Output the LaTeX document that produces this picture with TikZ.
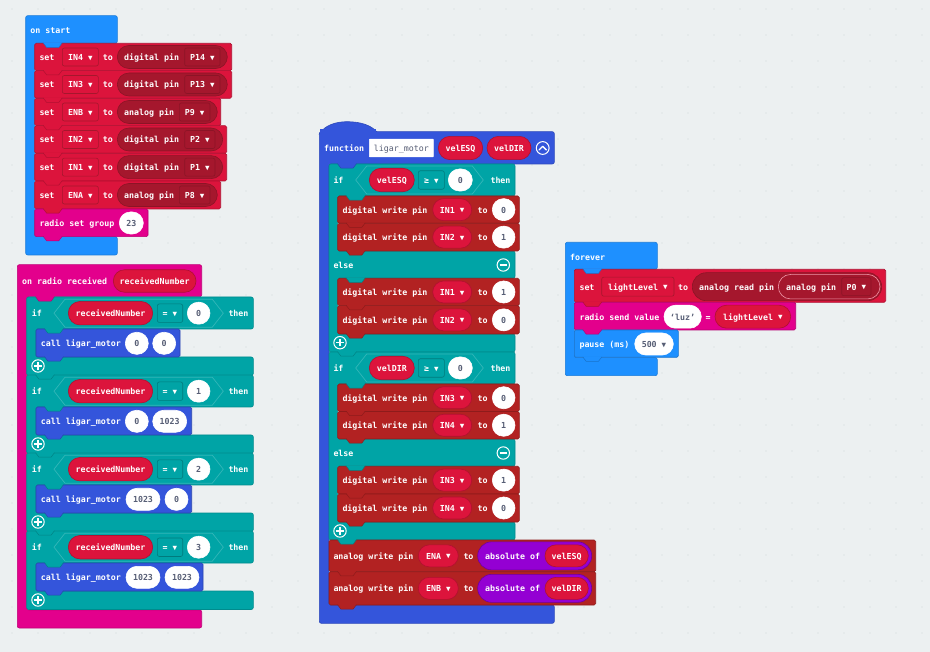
\documentclass[tikz,border=0pt]{standalone}
\usepackage{fontspec}
\setmainfont{DejaVu Sans Mono}
\usetikzlibrary{shapes.misc}
\definecolor{bgc}{HTML}{ECF0F1}
\definecolor{dotc}{HTML}{DFE4E6}
\definecolor{hatb}{HTML}{1E90FF}
\definecolor{crim}{HTML}{DC143C}
\definecolor{crimd}{HTML}{A5172D}
\definecolor{mag}{HTML}{E3008C}
\definecolor{teal}{HTML}{00A4A6}
\definecolor{tealL}{HTML}{33B6B8}
\definecolor{fnb}{HTML}{3455DB}
\definecolor{pinb}{HTML}{B22222}
\definecolor{purp}{HTML}{9400D3}
\definecolor{gtx}{HTML}{575E75}
\newcount\nn
\tikzset{
  x=1pt,y=-1pt,
  lab/.style={inner sep=0pt,text height=8pt,text depth=1pt,text=white,font=\fontsize{8.3}{10}\selectfont\bfseries},
  pillst/.style={lab,rounded rectangle,line width=.6pt},
  boxst/.style={lab,rectangle,rounded corners=2pt,line width=.6pt},
  vpill/.style={pillst,fill=crim,draw=crim!80!black},
  wpill/.style={pillst,fill=white,draw=white,text=gtx},
  dpill/.style={pillst,fill=crimd,draw=crimd!85!black},
  vbox/.style={boxst,fill=crim,draw=crimd},
  pbox/.style={boxst,fill=crimd,draw=crimd!85!black},
  tbox/.style={boxst,fill=teal,draw=teal!75!black},
}
\newcommand\dd{{\fontsize{7.5}{8}\selectfont\raisebox{.4pt}{▼}}}
% text at left x, centre y
\newcommand\Tx[3]{\global\advance\nn 1 \node[lab,anchor=west] (n\the\nn) at (#1,#2) {#3};}
% generic sized node: style, x1, x2, cy, h, text
\newcommand\Nd[6]{\global\advance\nn 1
  \pgfmathsetmacro\mx{(#2+#3)/2}\pgfmathsetmacro\mw{#3-#2}
  \node[#1,minimum width=\mw pt,minimum height=#5pt] (n\the\nn) at (\mx,#4) {#6};}
% simple block
\newcommand\Bk[5]{\draw[rounded corners=1.5pt,fill=#1,draw=#1!80!black,line width=.6pt] (#2,#3) rectangle (#4,#5);}
% tab hanging under a block edge
\newcommand\Tb[3]{\begin{scope}[shift={(#2,#3)}]
  \fill[#1] (8.5,-1)--(12,4.2)--(24,4.2)--(27.5,-1)--cycle;
  \draw[#1!80!black,line width=.5pt] (8.5,-.3)--(12,4.2)--(24,4.2)--(27.5,-.3);
  \end{scope}}
% C-shaped container: colour, x1,y1,x2,y2,xi,y3,x3,y4
\newcommand\Cs[9]{\draw[rounded corners=2pt,fill=#1,draw=#1!85!black,line width=.6pt]
  (#2,#3)--(#4,#3)--(#4,#5)--(#6,#5)--(#6,#7)--(#8,#7)--(#8,#9)--(#2,#9)--cycle;}
% Plus / minus icon
\newcommand\Pm[3]{\draw[white,line width=1pt] (#2,#3) circle (6.2);
  \draw[white,line width=1.3pt] ({#2-3.6},#3)--({#2+3.6},#3);
  \if#1p\draw[white,line width=1.3pt] (#2,{#3-3.6})--(#2,{#3+3.6});\fi}
% on-start set row: ytop ybot right var kind pillR boxL boxR pin
\newcommand\SetR[9]{\pgfmathsetmacro\cy{(#1+#2)/2}
  \Bk{crim}{34.7}{#1}{#3}{#2}
  \Tx{39.3}{\cy}{set}
  \Nd{vbox}{62.3}{98.3}{\cy}{18}{#4 \dd}
  \Tx{102.7}{\cy}{to}
  \Nd{dpill}{117.3}{#6}{\cy}{23}{}
  \Tx{124}{\cy}{#5}
  \Nd{pbox}{#7}{#8}{\cy}{18}{#9 \dd}}
% radio if: ytop number
\newcommand\RIf[2]{\pgfmathsetmacro\cy{#1+16.2}
  \Tx{31.7}{\cy}{if}
  \draw[tealL,line width=.7pt] (54,\cy)--(65,{\cy-14})--(212.3,{\cy-14})--(223.3,\cy)--(212.3,{\cy+14})--(65,{\cy+14})--cycle;
  \Nd{vpill}{68.3}{152.7}{\cy}{23.5}{receivedNumber}
  \Nd{tbox}{157.3}{182.7}{\cy}{18.5}{= \dd}
  \Nd{wpill}{187.3}{210}{\cy}{22}{#2}
  \Tx{228.3}{\cy}{then}}
% call row: ytop right  a1 a2 atext b1 b2 btext
\newcommand\Call[8]{\pgfmathsetmacro\cy{#1+14}
  \Tx{40.7}{\cy}{call ligar\_motor}
  \Nd{wpill}{#3}{#4}{\cy}{22}{#5}
  \Nd{wpill}{#6}{#7}{\cy}{22}{#8}}
% function if header: ytop var
\newcommand\FIf[2]{\pgfmathsetmacro\cy{#1+16}
  \Tx{333.3}{\cy}{if}
  \draw[tealL,line width=.7pt] (355.7,\cy)--(366.7,{\cy-14})--(472.3,{\cy-14})--(483.3,\cy)--(472.3,{\cy+14})--(366.7,{\cy+14})--cycle;
  \Nd{vpill}{369.3}{414.3}{\cy}{23.5}{#2}
  \Nd{tbox}{418.3}{444.3}{\cy}{18.5}{≥ \dd}
  \Nd{wpill}{448.3}{472.3}{\cy}{22}{0}
  \Tx{490.3}{\cy}{then}}
% digital write row contents and body: ytop ybot pin value
\newcommand\DW[4]{\pgfmathsetmacro\cy{(#1+#2)/2}
  \Bk{pinb}{337.7}{#1}{519.3}{#2}
  \Tx{342.3}{\cy}{digital write pin}
  \Nd{vpill}{432.7}{471.7}{\cy}{22}{#3 \dd}
  \Tx{477.3}{\cy}{to}
  \Nd{wpill}{492.3}{515}{\cy}{22}{#4}}
% analog write row
\newcommand\AW[4]{\pgfmathsetmacro\cy{(#1+#2)/2}
  \Bk{pinb}{329}{#1}{595.7}{#2}
  \Tx{333.3}{\cy}{analog write pin}
  \Nd{vpill}{418.3}{458.3}{\cy}{22}{#3 \dd}
  \Tx{463.3}{\cy}{to}
  \Nd{pillst,fill=purp,draw=purp!75!black}{477.7}{591.7}{\cy}{28}{}
  \Tx{485}{\cy}{absolute of}
  \Nd{vpill}{545}{588.3}{\cy}{22}{#4}}
% if-else teal container
\newcommand\IfElse[6]{\draw[rounded corners=2pt,fill=teal,draw=teal!85!black,line width=.6pt]
  (329,#1)--(515,#1)--(515,#2)--(337.7,#2)--(337.7,#3)--(515,#3)--(515,#4)--(337.7,#4)--(337.7,#5)--(515,#5)--(515,#6)--(329,#6)--cycle;}
\begin{document}
\begin{tikzpicture}
\useasboundingbox (0,0) rectangle (930,652);
\fill[bgc] (0,0) rectangle (930,652);
\foreach \i in {0,...,35}{\foreach \j in {0,...,24}{\fill[dotc] ({12+26*\i},{9+26*\j}) circle (.9);}}

%% on start
\Cs{hatb}{25.7}{15.7}{117.3}{43.3}{34.7}{236.7}{117.3}{255}
\Tx{30.3}{30}{on start}
\SetR{43.3}{70.7}{231.7}{IN4}{digital pin}{227.3}{184.7}{220}{P14}
\SetR{70.7}{98.3}{231.7}{IN3}{digital pin}{227.3}{184.7}{220}{P13}
\SetR{98.3}{125.7}{220.7}{ENB}{analog pin}{217.3}{179.3}{210}{P9}
\SetR{125.7}{153.3}{226.7}{IN2}{digital pin}{222.7}{184.7}{215}{P2}
\SetR{153.3}{181}{226.7}{IN1}{digital pin}{222.7}{184.7}{215}{P1}
\SetR{181}{209}{220.7}{ENA}{analog pin}{217.3}{179.3}{210}{P8}
\Bk{mag}{34.7}{209}{148}{236.7}
\Tx{39.3}{223}{radio set group}
\Nd{wpill}{119.3}{143.3}{223}{22}{23}
\Tb{hatb}{34.7}{43.3}
\foreach \y in {70.7,98.3,125.7,153.3,181,209}{\Tb{crim}{34.7}{\y}}
\Tb{mag}{34.7}{236.7}

%% on radio received
\Cs{mag}{17.3}{264.7}{201.7}{296.7}{26.7}{610}{201.7}{628}
\Tx{22}{281}{on radio received}
\Nd{vpill}{113.3}{196}{281}{22.5}{receivedNumber}
\foreach \t/\r in {297/180,375/191.7,453/191.7,531/203}{
  \pgfmathsetmacro\ya{\t+32}\pgfmathsetmacro\yb{\t+60}\pgfmathsetmacro\yc{\t+78.5}
  \Cs{teal}{26.7}{\t}{253.3}{\ya}{36}{\yb}{253.3}{\yc}
  \Bk{fnb}{36}{\ya}{\r}{\yb}
}
\RIf{297}{0}
\Call{329.3}{180}{125.3}{148.3}{0}{152.7}{175.7}{0}
\Pm{p}{38}{366}
\RIf{375}{1}
\Call{407.3}{191.7}{125.3}{148.3}{0}{152.7}{186.7}{1023}
\Pm{p}{38}{444}
\RIf{453}{2}
\Call{485.3}{191.7}{126}{160}{1023}{165}{188}{0}
\Pm{p}{38}{522}
\RIf{531}{3}
\Call{563.3}{203}{126}{160}{1023}{165}{199}{1023}
\Pm{p}{38}{600}
\Tb{mag}{27}{297}
\foreach \t in {297,375,453,531}{
  \pgfmathsetmacro\ya{\t+32}\pgfmathsetmacro\yb{\t+60}
  \Tb{teal}{36}{\ya}\Tb{fnb}{36}{\yb}}
\foreach \t in {375,453,531}{\Tb{teal}{27}{\t}}

%% function
\draw[fill=fnb,draw=fnb!85!black,line width=.6pt] (319.3,134) .. controls (325,125) and (336,121.7) .. (347,121.7) .. controls (360,121.7) and (371,125) .. (377,132) -- cycle;
\Cs{fnb}{319.3}{131.7}{554.3}{164}{329}{605}{554.3}{623.3}
\fill[fnb] (319.9,129) rectangle (376,134);
\Tx{324}{148}{function}
\Nd{boxst,fill=white,draw=white,rounded corners=.5pt,text=gtx,font=\fontsize{8.3}{10}\selectfont}{369.3}{433.3}{148}{17.7}{ligar\_motor}
\Nd{vpill}{438.3}{482.7}{148}{23.3}{velESQ}
\Nd{vpill}{487}{531}{148}{23.3}{velDIR}
\draw[white,line width=1pt] (542.7,148) circle (6.4);
\draw[white,line width=1.3pt,line cap=round,line join=round] (539,150)--(542.7,146.3)--(546.4,150);

\IfElse{164}{196}{251}{278.3}{334}{352}
\FIf{164}{velESQ}
\DW{196}{223.3}{IN1}{0}
\DW{223.3}{251}{IN2}{1}
\Tx{333.3}{265}{else}
\Pm{m}{503.3}{265}
\DW{278.3}{305.7}{IN1}{1}
\DW{305.7}{334}{IN2}{0}
\Pm{p}{340}{342.7}

\IfElse{352}{384}{439}{466.3}{522}{540}
\FIf{352}{velDIR}
\DW{384}{411.5}{IN3}{0}
\DW{411.5}{439}{IN4}{1}
\Tx{333.3}{453}{else}
\Pm{m}{503.3}{453}
\DW{466.3}{494}{IN3}{1}
\DW{494}{522}{IN4}{0}
\Pm{p}{340}{531}

\AW{540}{571.7}{ENA}{velESQ}
\AW{571.7}{605}{ENB}{velDIR}
\foreach \y in {223.3,251,305.7,334,411.5,439,494,522}{\Tb{pinb}{337.7}{\y}}
\foreach \y in {196,278.3,384,466.3}{\Tb{teal}{337.7}{\y}}
\Tb{fnb}{329}{164}
\Tb{teal}{329}{352}
\Tb{teal}{329}{540}
\Tb{pinb}{329}{571.7}
\Tb{pinb}{329}{605}

%% forever
\Cs{hatb}{565.3}{242.3}{657.3}{269.3}{574.3}{357.7}{657.3}{375.7}
\Tx{570}{256.7}{forever}
\Bk{crim}{574.3}{269.3}{885.7}{302.3}
\Tx{579.3}{286.7}{set}
\Nd{vbox}{601.7}{674}{286.7}{19}{lightLevel \dd}
\Tx{678}{286.7}{to}
\Nd{dpill}{692.3}{881.7}{286.7}{28}{}
\Tx{699}{286.7}{analog read pin}
\Nd{pillst,fill=crimd,draw=crim!45!white}{778.3}{880}{286.7}{24.5}{}
\Tx{786}{286.7}{analog pin}
\Nd{pbox}{841.7}{871}{286.7}{18}{P0 \dd}
\Bk{mag}{574.3}{302.3}{795.7}{330}
\Tx{579.3}{316.7}{radio send value}
\Nd{wpill}{664}{701.3}{316.7}{23}{‘luz’}
\Tx{705.5}{316.7}{=}
\Nd{vpill}{715}{790.7}{316.7}{23}{lightLevel \dd}
\Bk{hatb}{574.3}{330}{678.3}{357.3}
\Tx{579.3}{344}{pause (ms)}
\Nd{wpill}{634.7}{673.3}{344}{22}{500 \dd}
\Tb{hatb}{574.3}{269.3}
\Tb{crim}{574.3}{302.3}
\Tb{mag}{574.3}{330}
\Tb{hatb}{574.3}{357.3}
\end{tikzpicture}
\end{document}
